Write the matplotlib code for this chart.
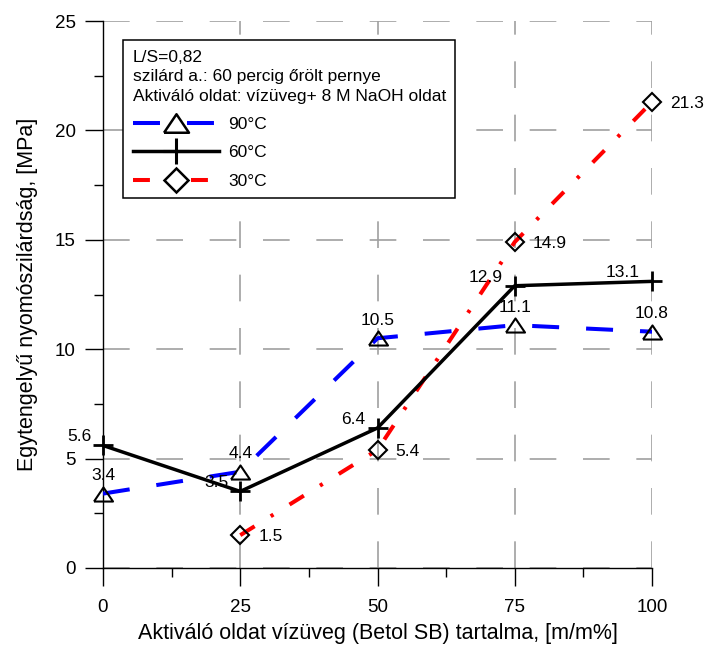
import matplotlib.pyplot as plt
from matplotlib.lines import Line2D
from matplotlib.ticker import MultipleLocator

plt.rcParams['font.family'] = ['Liberation Sans', 'DejaVu Sans']

x = [0, 25, 50, 75, 100]
v90 = [3.4, 4.4, 10.5, 11.1, 10.8]
v60 = [5.6, 3.5, 6.4, 12.9, 13.1]
x30 = [25, 50, 75, 100]
v30 = [1.5, 5.4, 14.9, 21.3]

legend_lines = ['L/S=0,82', 'szilárd a.: 60 percig őrölt pernye',
                'Aktiváló oldat: vízüveg+ 8 M NaOH oldat']
series_names = ['90°C', '60°C', '30°C']

# flat triangle marker
tri = [(-1, -0.74), (1, -0.74), (0, 0.74), (-1, -0.74)]
blue_ls = (0, (6.7, 6.7))
red_ls = (0, (4.2, 4.7, 0.8, 4.7))
LW = 2.9

fig = plt.figure(figsize=(7.05, 6.51), dpi=100)
ax = fig.add_axes([103 / 705, 83 / 651, 549 / 705, 547 / 651])

ax.grid(True, which='major', color='#a0a0a0', linestyle=(0, (16, 16)), linewidth=1.2)
ax.set_axisbelow(True)

ax.plot(x, v90, color='blue', lw=LW, ls=blue_ls, dash_capstyle='butt', zorder=3)
ax.plot(x, v90, ls='none', marker=tri, ms=13.7, mfc='none', mec='black', mew=1.5,
        zorder=4, clip_on=False)
ax.plot(x, v60, color='black', lw=2.5, zorder=5)
ax.plot(x, v60, ls='none', marker='+', ms=13.7, mec='black', mew=2.0, zorder=5,
        clip_on=False)
ax.plot(x30, v30, color='red', lw=LW, ls=red_ls, zorder=3)
ax.plot(x30, v30, ls='none', marker='D', ms=8.7, mfc='none', mec='black', mew=1.5,
        zorder=4, clip_on=False)

fs = 12.5
for xi, yi in zip(x, v90):
    ax.annotate(f'{yi}', (xi, yi), xytext=(0, 9.7), textcoords='offset points',
                ha='center', va='baseline', fontsize=fs, annotation_clip=False)
for xi, yi in zip(x, v60):
    ax.annotate(f'{yi}', (xi, yi), xytext=(-8.6, 2.9), textcoords='offset points',
                ha='right', va='baseline', fontsize=fs, annotation_clip=False)
for xi, yi in zip(x30, v30):
    ax.annotate(f'{yi}', (xi, yi), xytext=(13, 0), textcoords='offset points',
                ha='left', va='center_baseline', fontsize=fs, annotation_clip=False)

ax.set_xlim(0, 100)
ax.set_ylim(0, 25)
ax.xaxis.set_major_locator(MultipleLocator(25))
ax.xaxis.set_minor_locator(MultipleLocator(12.5))
ax.yaxis.set_major_locator(MultipleLocator(5))
ax.yaxis.set_minor_locator(MultipleLocator(2.5))
ax.tick_params(which='major', direction='out', length=13, width=1, labelsize=13.5)
ax.tick_params(which='minor', direction='out', length=6.5, width=1)
ax.tick_params(axis='x', which='major', pad=9)
ax.tick_params(axis='y', which='major', pad=6.5)
for s in ['top', 'right']:
    ax.spines[s].set_visible(False)
for s in ['left', 'bottom']:
    ax.spines[s].set_linewidth(1)

ax.set_xlabel('Aktiváló oldat vízüveg (Betol SB) tartalma, [m/m%]', fontsize=15.5, labelpad=5)
ax.set_ylabel('Egytengelyű nyomószilárdság, [MPa]', fontsize=15.5, labelpad=12)

handles = [Line2D([], [], color='blue', lw=LW, ls=blue_ls, marker=tri, ms=18,
                  mfc='white', mec='black', mew=1.8),
           Line2D([], [], color='black', lw=2.5, marker='+', ms=18.7, mew=2.2),
           Line2D([], [], color='red', lw=LW, ls=red_ls, marker='D', ms=12,
                  mfc='white', mec='black', mew=1.8)]
leg = ax.legend(handles, series_names, loc='upper left',
                title='\n'.join(legend_lines), title_fontsize=fs, alignment='left',
                bbox_to_anchor=(20 / 549, 528 / 547), borderaxespad=0,
                fontsize=fs, handlelength=5.0, handletextpad=0.52, labelspacing=0.75,
                borderpad=0.55, fancybox=False, framealpha=1, edgecolor='black')
leg.get_frame().set_linewidth(1.1)
leg.get_title().set_linespacing(1.4)

fig.savefig('out.png', dpi=100)
